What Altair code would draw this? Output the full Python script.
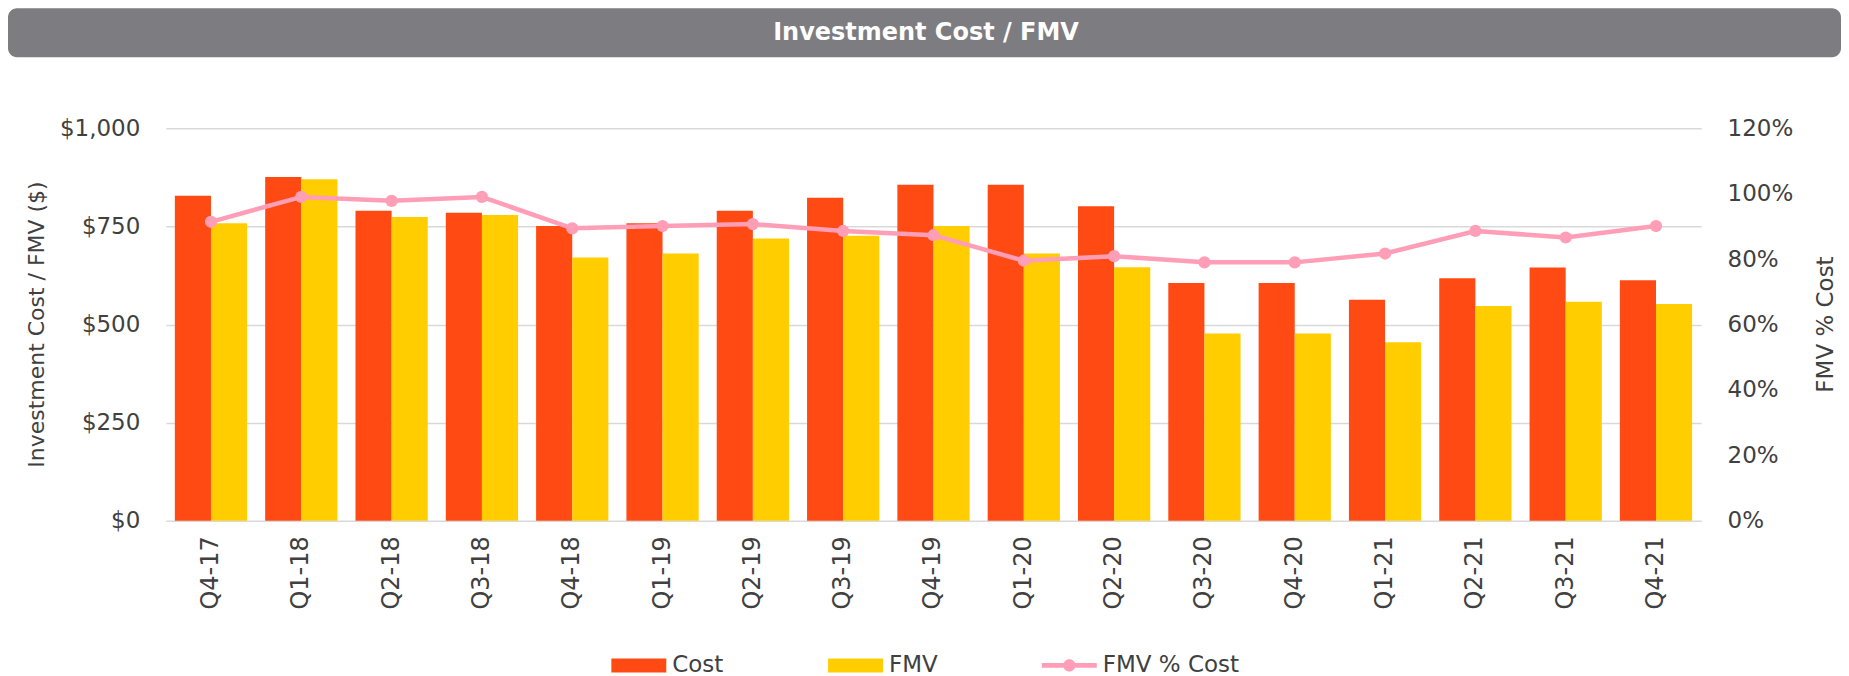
import altair as alt
import pandas as pd

# ---- data ----
quarters = ["Q4-17", "Q1-18", "Q2-18", "Q3-18", "Q4-18", "Q1-19", "Q2-19", "Q3-19",
            "Q4-19", "Q1-20", "Q2-20", "Q3-20", "Q4-20", "Q1-21", "Q2-21", "Q3-21", "Q4-21"]
cost = [828, 876, 790, 785, 751, 758, 790, 823, 856, 856, 801, 606, 606, 563, 618, 645, 613]
fmv = [758, 870, 774, 779, 671, 681, 719, 726, 751, 681, 646, 477, 477, 455, 547, 558, 552]
fmv_pct_cost = [0.914, 0.990, 0.978, 0.990, 0.894, 0.901, 0.907, 0.886, 0.873, 0.795,
                0.809, 0.790, 0.790, 0.817, 0.886, 0.866, 0.901]
series_names = ["Cost", "FMV", "FMV % Cost"]
title_text = "Investment Cost / FMV"

# ---- styling ----
C_COST = "#FF4A14"
C_FMV = "#FFCD00"
C_PCT = "#FF9EB6"
C_HEAD = "#7D7C81"
TXT = "#404040"
GRID = "#D9D9D9"
FONT = "DejaVu Sans"

W, H = 1537, 393

bars_df = pd.DataFrame({
    "quarter": quarters * 2,
    "series": ["Cost"] * len(quarters) + ["FMV"] * len(quarters),
    "value": cost + fmv,
})
line_df = pd.DataFrame({"quarter": quarters, "pct": fmv_pct_cost})
legend_df = pd.DataFrame({"item": series_names})
head_df = pd.DataFrame({"t": [title_text]})

x_scale = alt.Scale(domain=quarters, paddingInner=0.2, paddingOuter=0.1)
bar_color_scale = alt.Scale(domain=["Cost", "FMV"], range=[C_COST, C_FMV])
leg_color_scale = alt.Scale(domain=series_names, range=[C_COST, C_FMV, C_PCT])
rect_path = "M-1,-0.255L1,-0.255L1,0.255L-1,0.255Z"
line_path = ("M-1,-0.09L1,-0.09L1,0.09L-1,0.09Z "
             "M-0.22,0A0.22,0.22 0 1,1 0.22,0A0.22,0.22 0 1,1 -0.22,0Z")
shape_scale = alt.Scale(domain=series_names, range=[rect_path, rect_path, line_path])

x_axis = alt.Axis(title=None, labelAngle=270, labelPadding=15, ticks=False, tickSize=0,
                  domain=False, grid=False, labelFontSize=24, labelColor=TXT, labelFont=FONT)

header = alt.Chart(head_df).mark_rect(color=C_HEAD, cornerRadius=9).encode(
    x=alt.value(-158), x2=alt.value(1677), y=alt.value(-120), y2=alt.value(-71)
)
header_text = alt.Chart(head_df).mark_text(
    color="white", font=FONT, fontSize=24, fontWeight="bold", align="center", baseline="middle"
).encode(x=alt.value(761), y=alt.value(-95), text="t:N")

bars = alt.Chart(bars_df).mark_bar().encode(
    x=alt.X("quarter:N", scale=x_scale, axis=x_axis),
    xOffset=alt.XOffset("series:N", scale=alt.Scale(domain=["Cost", "FMV"], paddingInner=0, paddingOuter=0)),
    y=alt.Y("value:Q", scale=alt.Scale(domain=[0, 1000]),
            axis=alt.Axis(title="Investment Cost / FMV ($)", orient="left", values=[0, 250, 500, 750, 1000],
                          format="$,.0f", ticks=False, tickSize=0, domain=False, grid=True,
                          gridColor=GRID, gridWidth=1.5, labelPadding=26, labelFontSize=23,
                          labelColor=TXT, labelFont=FONT, titleFont=FONT, titleFontSize=22,
                          titleFontWeight="normal", titleColor=TXT, titleAngle=270,
                          titleX=-129, titleY=196, titleAlign="center", titleBaseline="middle")),
    color=alt.Color("series:N", scale=bar_color_scale, legend=None),
)

line = alt.Chart(line_df).mark_line(
    color=C_PCT, strokeWidth=4.5,
    point=alt.OverlayMarkDef(color=C_PCT, filled=True, size=150, opacity=1),
).encode(
    x=alt.X("quarter:N", scale=x_scale, axis=x_axis),
    y=alt.Y("pct:Q", scale=alt.Scale(domain=[0, 1.2]),
            axis=alt.Axis(title="FMV % Cost", orient="right", values=[0, 0.2, 0.4, 0.6, 0.8, 1.0, 1.2],
                          format=".0%", ticks=False, tickSize=0, domain=False, grid=False,
                          labelPadding=26, labelFontSize=23, labelColor=TXT, labelFont=FONT,
                          titleFont=FONT, titleFontSize=23, titleFontWeight="normal", titleColor=TXT,
                          titleAngle=270, titleX=124, titleY=196, titleAlign="center",
                          titleBaseline="middle")),
)

leg = dict(title=None, orient="none", direction="horizontal",
           legendX=446, legendY=510, padding=0,
           symbolSize=3025, symbolStrokeWidth=0, symbolOpacity=1,
           labelFont=FONT, labelFontSize=23, labelColor=TXT,
           labelOffset=6, columnPadding=104)

legend_layer = alt.Chart(legend_df).mark_point(filled=True, opacity=0, size=3025).encode(
    x=alt.value(0), y=alt.value(0),
    color=alt.Color("item:N", scale=leg_color_scale, legend=alt.Legend(**leg)),
    shape=alt.Shape("item:N", scale=shape_scale, legend=alt.Legend(**leg)),
)

chart = alt.layer(header, header_text, bars, line, legend_layer).resolve_scale(
    y="independent", color="independent", shape="independent"
).properties(
    width=W, height=H,
    autosize=alt.AutoSizeParams(type="none"),
    padding={"left": 158, "top": 120, "right": 140, "bottom": 155},
    background="white",
).configure_view(strokeWidth=0)

chart.save("out.html", embed_options={"renderer": "svg", "actions": False})
